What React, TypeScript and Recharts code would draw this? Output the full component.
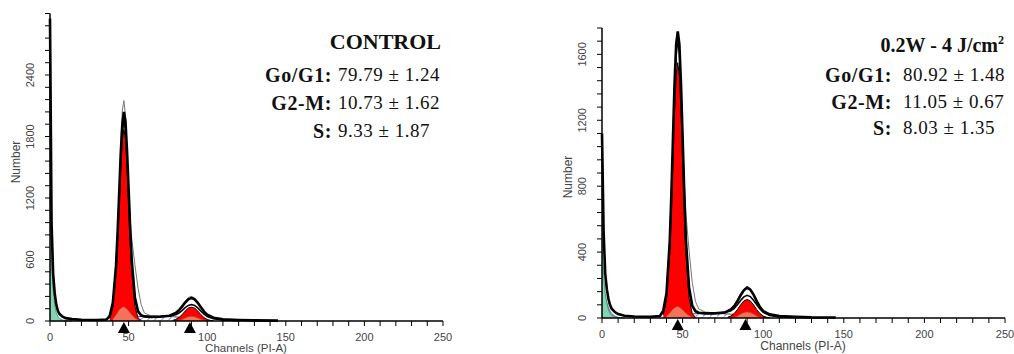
import React from 'react';
import { ComposedChart, Area, Line, Scatter, XAxis, YAxis } from 'recharts';

// ---------- data ----------
const xTicks = [0, 10, 20, 30, 40, 50, 60, 70, 80, 90, 100, 110, 120, 130, 140, 150, 160, 170, 180, 190, 200, 210, 220, 230, 240, 250];
const xTickLabels = [0, 50, 100, 150, 200, 250];
const controlYTicks = [0, 120, 240, 360, 480, 600, 720, 840, 960, 1080, 1200, 1320, 1440, 1560, 1680, 1800, 1920, 2040, 2160, 2280, 2400, 2520, 2640, 2760, 2880, 3000];
const controlYLabels = [0, 600, 1200, 1800, 2400];
const treatedYTicks = [0, 80, 160, 240, 320, 400, 480, 560, 640, 720, 800, 880, 960, 1040, 1120, 1200, 1280, 1360, 1440, 1520, 1600, 1680, 1760];
const treatedYLabels = [0, 400, 800, 1200, 1600];

const rawCh = [0, 1, 2, 3, 4, 5, 6, 8, 10, 14, 20, 30, 36, 38, 40, 42, 43, 44, 45, 46, 47, 48, 49, 50, 51, 52, 54, 56, 58, 60, 64, 70, 76, 80, 82, 84, 86, 88, 90, 92, 94, 96, 98, 100, 104, 110, 120, 130, 145];
const controlRaw = [2950, 950, 460, 270, 160, 100, 70, 42, 28, 18, 12, 10, 14, 50, 180, 540, 860, 1240, 1630, 1920, 2040, 1950, 1660, 1290, 900, 590, 230, 95, 56, 45, 40, 42, 52, 78, 105, 140, 180, 212, 226, 212, 178, 134, 92, 62, 32, 16, 10, 6, 4];
const treatedRaw = [1120, 520, 270, 175, 115, 78, 56, 36, 24, 14, 9, 8, 12, 45, 150, 460, 740, 1080, 1420, 1660, 1740, 1660, 1420, 1100, 770, 480, 185, 75, 42, 32, 28, 28, 33, 52, 72, 102, 138, 168, 184, 172, 142, 102, 66, 42, 22, 12, 7, 4, 3];

const fitCh = [38, 40, 42, 43, 44, 45, 46, 47, 48, 49, 50, 51, 52, 54, 56, 58, 60, 64, 70, 76, 80, 82, 84, 86, 88, 90, 92, 94, 96, 98, 100, 104, 110, 120];
const controlFit = [34, 160, 520, 830, 1200, 1570, 1840, 1960, 1870, 1600, 1240, 870, 570, 215, 88, 52, 45, 42, 44, 50, 62, 78, 102, 130, 152, 160, 152, 128, 96, 66, 44, 22, 10, 4];
const treatedFit = [30, 132, 440, 710, 1040, 1370, 1600, 1690, 1610, 1380, 1060, 740, 460, 175, 68, 38, 30, 28, 29, 32, 44, 58, 80, 106, 128, 138, 130, 108, 80, 54, 34, 16, 7, 3];

const overlayCh = [40, 42, 43, 44, 45, 46, 47, 48, 49, 50, 51, 52, 54, 56, 58, 60, 64, 70, 76, 80, 82, 84, 86, 88, 90, 92, 94, 96, 98, 100, 104, 110];
const controlOverlay = [150, 510, 850, 1260, 1710, 2050, 2150, 2010, 1660, 1280, 990, 800, 550, 320, 160, 80, 50, 45, 55, 85, 115, 155, 195, 230, 240, 225, 185, 140, 95, 60, 30, 14];
const treatedOverlay = [128, 430, 710, 1050, 1390, 1640, 1730, 1650, 1400, 1110, 850, 640, 410, 215, 100, 55, 36, 32, 36, 56, 78, 110, 146, 176, 192, 180, 148, 106, 70, 44, 22, 11];

const g1Ch = [38, 40, 42, 43, 44, 45, 46, 47, 48, 49, 50, 51, 52, 54, 56, 58];
const controlG1 = [25, 135, 480, 780, 1140, 1500, 1770, 1870, 1775, 1515, 1165, 800, 495, 145, 30, 4];
const treatedG1 = [20, 112, 396, 645, 946, 1245, 1468, 1550, 1470, 1255, 960, 660, 405, 120, 26, 4];

const g1AggCh = [40, 42, 44, 46, 47, 48, 50, 52, 54, 56, 58];
const controlG1Agg = [20, 60, 110, 135, 138, 130, 100, 60, 30, 10, 0];
const treatedG1Agg = [10, 30, 55, 68, 70, 66, 50, 30, 15, 5, 0];

const g2Ch = [78, 80, 82, 84, 86, 88, 90, 92, 94, 96, 98, 100, 102, 104];
const controlG2 = [6, 15, 33, 62, 97, 126, 135, 126, 97, 62, 33, 15, 6, 2];
const treatedG2 = [5, 12, 27, 51, 80, 104, 112, 104, 80, 51, 27, 12, 5, 1];

const g2AggCh = [82, 84, 86, 88, 90, 92, 94, 96, 98, 100];
const controlG2Agg = [5, 15, 30, 42, 46, 42, 30, 16, 6, 0];
const treatedG2Agg = [4, 12, 24, 34, 37, 34, 24, 12, 4, 0];

const sCh = [48, 50, 54, 60, 70, 78, 84, 88, 92];
const controlS = [0, 20, 40, 45, 45, 42, 35, 20, 0];
const treatedS = [0, 12, 24, 27, 27, 25, 20, 10, 0];

const debrisCh = [0, 1, 2, 3, 4, 5, 6, 8, 10, 14];
const controlDebris = [1250, 600, 300, 160, 80, 45, 25, 10, 4, 0];
const controlDebris2 = [0, 0, 0, 0, 0, 0, 0, 0, 0, 0];
const treatedDebris = [480, 260, 150, 90, 50, 28, 15, 6, 2, 0];
const treatedDebris2 = [200, 170, 130, 95, 65, 42, 28, 12, 4, 0];

const peakMarkers = [47, 89];

const phaseLabels = ['Go/G1:', 'G2-M:', 'S:'];
const controlValues = ['79.79 ± 1.24', '10.73 ± 1.62', '9.33 ± 1.87'];
const treatedValues = ['80.92 ± 1.48', '11.05 ± 0.67', '8.03 ± 1.35'];

// ---------- helpers ----------
const AXIS_FONT = '"Liberation Sans", Arial, sans-serif';
const SERIF = '"Liberation Serif", "Times New Roman", serif';

const pts = (xs: number[], ys: number[]) => xs.map((x, i) => ({ x, v: ys[i] }));

const XTick = (props: any) => {
  const { x, y, payload } = props;
  const v = payload.value;
  const major = xTickLabels.includes(v);
  return (
    <g>
      <line x1={x} x2={x} y1={y} y2={y + 5} stroke="#000" strokeWidth={1} />
      {major && (
        <text x={x} y={y + 20} textAnchor="middle" fontSize={11} fill="#444" fontFamily={AXIS_FONT}>
          {v}
        </text>
      )}
    </g>
  );
};

const makeYTick = (labels: number[]) => (props: any) => {
  const { x, y, payload } = props;
  const v = payload.value;
  const major = labels.includes(v);
  const lx = x - 16;
  return (
    <g>
      <line x1={x - 5} x2={x} y1={y} y2={y} stroke="#000" strokeWidth={1} />
      {major && (
        <text x={lx} y={y} transform={`rotate(-90 ${lx} ${y})`} textAnchor="middle" fontSize={11} fill="#444" fontFamily={AXIS_FONT}>
          {v}
        </text>
      )}
    </g>
  );
};

const Triangle = (props: any) => {
  const { cx, cy } = props;
  return <polygon points={`${cx},${cy + 1} ${cx - 6},${cy + 12} ${cx + 6},${cy + 12}`} fill="#000" />;
};

type HistProps = {
  left: number;
  width: number;
  top: number;
  right: number;
  plotBottom: number;
  yMax: number;
  yTicks: number[];
  yLabels: number[];
  hatchId: string;
  raw: number[];
  fit: number[];
  overlay: number[];
  g1: number[];
  g1Agg: number[];
  g2: number[];
  g2Agg: number[];
  s: number[];
  debris: number[];
  debris2: number[];
};

function Histogram(p: HistProps) {
  const markers = peakMarkers.map((x) => ({ x, v: 0 }));
  return (
    <div style={{ position: 'absolute', left: p.left, top: 0 }}>
      <ComposedChart width={p.width} height={354} margin={{ top: p.top, right: p.right, bottom: 0, left: 0 }}>
        <defs>
          <pattern id={p.hatchId} width="5" height="5" patternUnits="userSpaceOnUse" patternTransform="rotate(45)">
            <rect width="5" height="5" fill="#fff" />
            <line x1="0" y1="0" x2="0" y2="5" stroke="#2a4ee0" strokeWidth="1.3" strokeDasharray="2 1" />
          </pattern>
        </defs>
        <XAxis
          dataKey="x"
          type="number"
          domain={[0, 250]}
          ticks={xTicks}
          interval={0}
          height={354 - p.plotBottom}
          tickSize={0}
          tickMargin={0}
          tickLine={false}
          tick={XTick}
          axisLine={{ stroke: '#000', strokeWidth: 1.5 }}
          allowDuplicatedCategory={false}
        />
        <YAxis
          type="number"
          domain={[0, p.yMax]}
          ticks={p.yTicks}
          interval={0}
          width={50}
          tickSize={0}
          tickMargin={0}
          tickLine={false}
          tick={makeYTick(p.yLabels)}
          axisLine={{ stroke: '#000', strokeWidth: 1.5 }}
        />
        <Area data={pts(debrisCh, p.debris2)} dataKey="v" type="linear" fill="#9a9cc8" fillOpacity={1} stroke="#6a6c98" strokeWidth={0.8} isAnimationActive={false} />
        <Area data={pts(debrisCh, p.debris)} dataKey="v" type="linear" fill="#84d4b4" fillOpacity={1} stroke="#3a8a6a" strokeWidth={0.8} isAnimationActive={false} />
        <Area data={pts(sCh, p.s)} dataKey="v" type="linear" fill={`url(#${p.hatchId})`} fillOpacity={1} stroke="#222" strokeWidth={0.8} isAnimationActive={false} />
        <Area data={pts(g1Ch, p.g1)} dataKey="v" type="linear" fill="#ff0000" fillOpacity={1} stroke="#1a0000" strokeWidth={1} isAnimationActive={false} />
        <Area data={pts(g2Ch, p.g2)} dataKey="v" type="linear" fill="#ff0000" fillOpacity={1} stroke="#1a0000" strokeWidth={1} isAnimationActive={false} />
        <Area data={pts(g1AggCh, p.g1Agg)} dataKey="v" type="linear" fill="#f2735a" fillOpacity={1} stroke="#c0402a" strokeWidth={0.8} isAnimationActive={false} />
        <Area data={pts(g2AggCh, p.g2Agg)} dataKey="v" type="linear" fill="#f2735a" fillOpacity={1} stroke="#c0402a" strokeWidth={0.8} isAnimationActive={false} />
        <Line data={pts(fitCh, p.fit)} dataKey="v" type="linear" stroke="#000" strokeWidth={1.6} dot={false} isAnimationActive={false} />
        <Line data={pts(overlayCh, p.overlay)} dataKey="v" type="linear" stroke="#777" strokeWidth={1} dot={false} isAnimationActive={false} />
        <Line data={pts(rawCh, p.raw)} dataKey="v" type="linear" stroke="#000" strokeWidth={2.6} dot={false} isAnimationActive={false} />
        <Scatter data={markers} dataKey="v" shape={Triangle} isAnimationActive={false} />
      </ComposedChart>
    </div>
  );
}

const abs = (extra: React.CSSProperties): React.CSSProperties => ({ position: 'absolute', whiteSpace: 'nowrap', lineHeight: '24px', ...extra });

function Annotation(props: {
  title: React.ReactNode;
  titleSize: number;
  titleRight: number;
  titleY: number;
  labelRight: number;
  valueLeft: number;
  rowsY: number[];
  values: string[];
}) {
  return (
    <>
      <div style={abs({ right: 1014 - props.titleRight, top: props.titleY - 12, fontFamily: SERIF, fontWeight: 'bold', fontSize: props.titleSize, color: '#111' })}>
        {props.title}
      </div>
      {phaseLabels.map((l, i) => (
        <div
          key={'l' + i}
          style={abs({ right: 1014 - props.labelRight, top: props.rowsY[i] - 12, fontFamily: SERIF, fontWeight: 'bold', fontSize: 20, letterSpacing: 0.6, color: '#111' })}
        >
          {l}
        </div>
      ))}
      {props.values.map((v, i) => (
        <div key={'v' + i} style={abs({ left: props.valueLeft, top: props.rowsY[i] - 12, fontFamily: SERIF, fontSize: 19, letterSpacing: 0.5, color: '#111' })}>
          {v}
        </div>
      ))}
    </>
  );
}

export default function App() {
  return (
    <div style={{ position: 'absolute', left: 0, top: 0, width: 1014, height: 354, background: '#fff', overflow: 'hidden' }}>
      <Histogram
        left={0}
        width={460}
        top={13.5}
        right={17}
        plotBottom={321}
        yMax={3000}
        yTicks={controlYTicks}
        yLabels={controlYLabels}
        hatchId="hatchCtrl"
        raw={controlRaw}
        fit={controlFit}
        overlay={controlOverlay}
        g1={controlG1}
        g1Agg={controlG1Agg}
        g2={controlG2}
        g2Agg={controlG2Agg}
        s={controlS}
        debris={controlDebris}
        debris2={controlDebris2}
      />
      <Histogram
        left={552}
        width={462}
        top={28}
        right={9}
        plotBottom={318}
        yMax={1760}
        yTicks={treatedYTicks}
        yLabels={treatedYLabels}
        hatchId="hatchTrt"
        raw={treatedRaw}
        fit={treatedFit}
        overlay={treatedOverlay}
        g1={treatedG1}
        g1Agg={treatedG1Agg}
        g2={treatedG2}
        g2Agg={treatedG2Agg}
        s={treatedS}
        debris={treatedDebris}
        debris2={treatedDebris2}
      />
      {/* axis titles */}
      <div style={abs({ left: 246, top: 341.5, transform: 'translateX(-50%)', fontFamily: AXIS_FONT, fontSize: 11.5, color: '#444', lineHeight: '13px' })}>Channels (PI-A)</div>
      <div style={abs({ left: 803, top: 339, transform: 'translateX(-50%)', fontFamily: AXIS_FONT, fontSize: 12, color: '#444', lineHeight: '14px' })}>Channels (PI-A)</div>
      <div style={abs({ left: 16, top: 162, transform: 'translate(-50%, -50%) rotate(-90deg)', fontFamily: AXIS_FONT, fontSize: 12, color: '#444', lineHeight: '14px' })}>Number</div>
      <div style={abs({ left: 568, top: 177, transform: 'translate(-50%, -50%) rotate(-90deg)', fontFamily: AXIS_FONT, fontSize: 12, color: '#444', lineHeight: '14px' })}>Number</div>
      <Annotation title="CONTROL" titleSize={22} titleRight={441} titleY={42} labelRight={332} valueLeft={338} rowsY={[75, 103, 131]} values={controlValues} />
      <Annotation
        title={
          <span>
            0.2W - 4 J/cm<sup style={{ fontSize: '0.6em', verticalAlign: 'super', lineHeight: 0 }}>2</sup>
          </span>
        }
        titleSize={20}
        titleRight={1004}
        titleY={45}
        labelRight={892}
        valueLeft={903}
        rowsY={[75, 102, 128]}
        values={treatedValues}
      />
    </div>
  );
}
